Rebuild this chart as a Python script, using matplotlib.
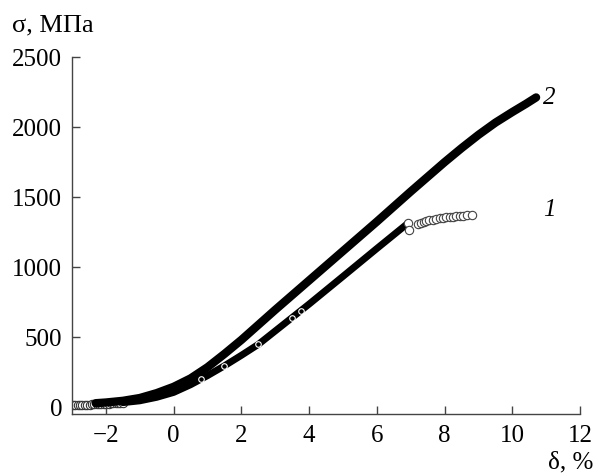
import matplotlib.pyplot as plt

plt.rcParams['font.family'] = ['Liberation Serif', 'DejaVu Serif']

# curve 2 (dense black band)
d2 = [-2.3, -2.0, -1.5, -1.0, -0.5, 0.0, 0.5, 1.0, 1.5, 2.0, 3.0, 4.0, 5.0, 6.0, 7.0, 8.0,
      8.5, 9.0, 9.5, 10.0, 10.4, 10.7]
s2 = [28, 33, 45, 65, 100, 145, 205, 285, 380, 480, 695, 905, 1115, 1325, 1540, 1750,
      1850, 1945, 2032, 2108, 2166, 2212]

# curve 1 (dense black band)
d1 = [-1.5, -1.0, -0.5, 0.0, 0.5, 1.0, 1.5, 2.0, 2.5, 3.5, 4.0, 5.0, 6.0, 6.9]
s1 = [32, 45, 70, 105, 160, 225, 295, 370, 448, 640, 736, 934, 1133, 1310]

# curve 1, individual open circles at start
d1_start = [-2.97, -2.9, -2.83, -2.76, -2.69, -2.62, -2.55, -2.48, -2.41, -2.34, -2.27,
            -2.2, -2.13, -2.06, -1.99, -1.92, -1.85, -1.78, -1.71, -1.64, -1.57, -1.5]
s1_start = [15, 15, 16, 16, 17, 17, 18, 18, 19, 20, 20,
            21, 22, 23, 24, 25, 26, 27, 28, 29, 30, 32]

# curve 1, circles after the break
d1_tail = [6.93, 6.95, 7.22, 7.3, 7.38, 7.46, 7.55, 7.65, 7.75, 7.85, 7.95, 8.05,
           8.15, 8.25, 8.35, 8.45, 8.55, 8.65, 8.8]
s1_tail = [1312, 1268, 1305, 1318, 1324, 1330, 1334, 1338, 1343, 1348, 1352, 1356,
           1358, 1361, 1364, 1366, 1368, 1370, 1373]
d1_dense = [7.3, 7.5, 7.75]
s1_dense = [1318, 1332, 1343]

# a few circles visible inside curve 1
d1_marks = [0.8, 1.5, 2.5, 3.5, 3.75]
s1_marks = [198, 295, 448, 640, 688]

fig, ax = plt.subplots(figsize=(5.95, 4.76), dpi=100)
fig.subplots_adjust(left=0.121, right=0.975, bottom=0.130, top=0.880)

ax.plot(d1, s1, color='black', lw=5, solid_capstyle='round', zorder=3)
ax.plot(d1_dense, s1_dense, color='black', lw=4, solid_capstyle='round', zorder=3)
ax.plot(d2, s2, color='black', lw=6, solid_capstyle='round', zorder=4)
ax.plot(d1_start, s1_start, 'o', ms=6, mfc='white', mec='#333333', mew=0.8, zorder=2)
ax.plot(d1_tail, s1_tail, 'o', ms=6, mfc='white', mec='#444444', mew=0.8, zorder=3)
ax.plot(d1_marks, s1_marks, 'o', ms=4, mfc='none', mec='white', mew=0.8, zorder=5)

ax.text(11.1, 2207, '2', fontsize=18, style='italic', va='center', ha='center')
ax.text(11.1, 1407, '1', fontsize=18, style='italic', va='center', ha='center')

ax.set_xlim(-3, 12)
ax.set_ylim(-50, 2500)
ax.set_xticks([-2, 0, 2, 4, 6, 8, 10, 12])
ax.set_xticklabels(['\u22122', '0', '2', '4', '6', '8', '10', '12'])
ax.set_yticks([0, 500, 1000, 1500, 2000, 2500])

for side in ['top', 'right']:
    ax.spines[side].set_visible(False)
for side in ['left', 'bottom']:
    ax.spines[side].set_color('#444444')
    ax.spines[side].set_linewidth(1.0)

ax.tick_params(direction='in', length=6, width=1.0, color='#444444', labelsize=18)
ax.tick_params(axis='x', pad=8)
ax.tick_params(axis='y', pad=7)

fig.text(0.02, 0.947, '\u03c3, \u041c\u041f\u0430', fontsize=19, ha='left', va='center')
fig.text(0.997, 0.028, '\u03b4, %', fontsize=18, ha='right', va='center')

fig.savefig('out.png', dpi=100)
